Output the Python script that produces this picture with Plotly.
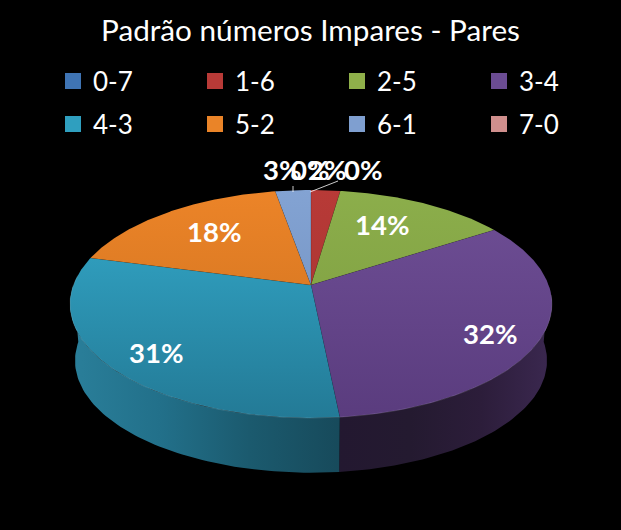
import numpy as np
import plotly.graph_objects as go

# --- data ---
title_text = "Padrão números Impares - Pares"
categories = ["0-7", "1-6", "2-5", "3-4", "4-3", "5-2", "6-1", "7-0"]
values = [0.0, 2.3, 13.6, 32.49, 30.71, 18.1, 2.8, 0.0]
legend_colors = ["#3f74b4", "#b83a37", "#8fb04a", "#6b4c93", "#2f9fbf", "#ea8428", "#7f9fd0", "#d08f8d"]
top_colors_hi = ["#4a7ebd", "#b83a37", "#8cae4b", "#6f4f96", "#34aacb", "#ec8428", "#83a3d3", "#d69a98"]
top_colors_lo = ["#3a6aa5", "#a03230", "#7a9a3e", "#5a3c7e", "#237a96", "#c96f1e", "#6d8cba", "#b88483"]
side_stops = {
    3: ["#231830", "#241a30", "#2c1d3a", "#3b2850"],
    4: ["#2a7f9a", "#22708a", "#1b5a6e", "#174a5b"],
}

# --- projection of the tilted pie ---
CX = 311
TOP = dict(y0=285, kx=237.6, ky=110.8)
BOT = dict(y0=342, kx=232.7, ky=108.9)
P = -1 / 6


def project(theta_deg, g):
    t = np.radians(theta_deg)
    u, v = np.sin(t), -np.cos(t)
    d = 1 + P * v
    return CX + g["kx"] * u / d, g["y0"] + g["ky"] * v / d


fig = go.Figure()
edges = np.concatenate([[0], np.cumsum(values)]) / sum(values) * 360

# sides (front half only)
for i, (a, b) in enumerate(zip(edges[:-1], edges[1:])):
    lo, hi = max(a, 90), min(b, 270)
    if hi <= lo:
        continue
    th = np.linspace(lo, hi, 80)
    xt, yt = project(th, TOP)
    xb, yb = project(th, BOT)
    xs = np.concatenate([xt, xb[::-1]])
    ys = np.concatenate([yt, yb[::-1]])
    stops = side_stops[i]
    scale = [[k / (len(stops) - 1), c] for k, c in enumerate(stops)]
    fig.add_trace(go.Scatter(
        x=xs, y=ys, mode="lines", fill="toself", line=dict(width=0),
        fillgradient=dict(type="horizontal", colorscale=scale, start=float(xs.min()), stop=float(xs.max())),
        hoverinfo="skip", showlegend=False))

# top face
ax, ay = project(0, dict(TOP, kx=0, ky=0))
for i, (a, b) in enumerate(zip(edges[:-1], edges[1:])):
    if b - a <= 0:
        continue
    th = np.linspace(a, b, max(int(b - a) * 2, 6))
    xe, ye = project(th, TOP)
    xs = np.concatenate([[ax], xe, [ax]])
    ys = np.concatenate([[ay], ye, [ay]])
    fig.add_trace(go.Scatter(
        x=xs, y=ys, mode="lines", fill="toself", line=dict(width=0),
        fillgradient=dict(type="vertical",
                          colorscale=[[0, top_colors_hi[i]], [1, top_colors_lo[i]]],
                          start=190, stop=418),
        hoverinfo="skip", showlegend=False))
    # faint separator between neighbouring slices
    fig.add_trace(go.Scatter(
        x=[ax, xe[-1]], y=[ay, ye[-1]], mode="lines",
        line=dict(width=0.6, color="rgba(0,0,0,0.25)"),
        hoverinfo="skip", showlegend=False))
    # bevel highlight along the front rim
    lo, hi = max(a, 95), min(b, 275)
    if hi > lo:
        xr, yr = project(np.linspace(lo, hi, 80), TOP)
        fig.add_trace(go.Scatter(
            x=xr, y=yr, mode="lines",
            line=dict(width=0.8, color="rgba(255,255,255,0.16)"),
            hoverinfo="skip", showlegend=False))

# leader lines
leaders = [((293, 293), (192, 186)), ((310, 338), (192, 181))]
for lx, ly in leaders:
    fig.add_trace(go.Scatter(x=list(lx), y=list(ly), mode="lines",
                             line=dict(color="white", width=0.8),
                             hoverinfo="skip", showlegend=False))

# legend entries
for i, (name, col) in enumerate(zip(categories, legend_colors)):
    fig.add_trace(go.Scatter(
        x=[None], y=[None], mode="markers", name=name,
        marker=dict(symbol="square", size=16, color=col, line=dict(width=0)),
        legend="legend" if i < 4 else "legend2", showlegend=True))

# percentage labels
label_xy = [(310, 169), (327, 169), (382, 224.5), (490, 333), (156, 352), (214, 231), (282, 169), (363, 169)]
for v, (lx, ly) in zip(values, label_xy):
    fig.add_annotation(x=lx, y=ly, text=f"{round(v)}%", showarrow=False,
                       font=dict(family="Lato", size=27.5, color="white", weight="bold"),
                       xanchor="center", yanchor="middle")

legend_common = dict(orientation="h", entrywidth=97, entrywidthmode="pixels",
                     font=dict(family="Lato", size=26, color="white"),
                     bgcolor="rgba(0,0,0,0)", borderwidth=0, itemsizing="trace",
                     xanchor="left", yanchor="middle", x=56 / 621, traceorder="normal",
                     itemclick=False, itemdoubleclick=False)

fig.update_layout(
    width=621, height=530, autosize=False,
    paper_bgcolor="black", plot_bgcolor="black",
    margin=dict(l=0, r=0, t=0, b=0),
    title=dict(text=title_text, x=0.5, xanchor="center", y=1 - 31 / 530, yanchor="middle",
               font=dict(family="Lato", size=29.7, color="white")),
    xaxis=dict(range=[0, 621], visible=False, fixedrange=True),
    yaxis=dict(range=[530, 0], visible=False, fixedrange=True),
    legend=dict(legend_common, y=1 - 81 / 530),
    legend2=dict(legend_common, y=1 - 124 / 530),
    showlegend=True,
)

fig.write_html("out.html", config={"displayModeBar": False},
               post_script="document.body.style.margin='0';document.body.style.background='black';document.body.style.overflow='hidden';")
